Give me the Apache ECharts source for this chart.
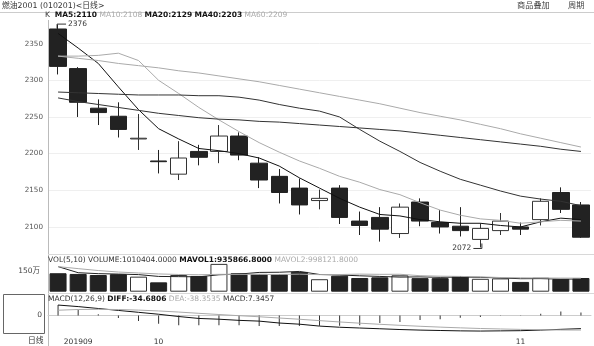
<!DOCTYPE html>
<html><head><meta charset="utf-8">
<script src="https://cdn.jsdelivr.net/npm/echarts@6/dist/echarts.min.js"></script>
<style>html,body{margin:0;padding:0;background:#fff}#c{width:594px;height:346px}</style>
</head><body><div id="c"></div>
<script>
const dates = ['2019-09-24','2019-09-25','2019-09-26','2019-09-27','2019-09-30','2019-10-08','2019-10-09','2019-10-10','2019-10-11','2019-10-14','2019-10-15','2019-10-16','2019-10-17','2019-10-18','2019-10-21','2019-10-22','2019-10-23','2019-10-24','2019-10-25','2019-10-28','2019-10-29','2019-10-30','2019-10-31','2019-11-01','2019-11-04','2019-11-05','2019-11-06'];
const openP  = [2370,2316,2262,2251,2220,2190,2172,2203,2203,2224,2187,2169,2153,2136,2153,2108,2113,2091,2134,2106,2101,2083,2095,2100,2110,2147,2130];
const closeP = [2319,2270,2256,2233,2221,2189,2194,2195,2224,2198,2164,2147,2130,2139,2113,2102,2097,2127,2108,2100,2095,2098,2108,2097,2135,2124,2086];
const lowP   = [2308,2250,2239,2222,2205,2173,2164,2184,2187,2191,2153,2132,2117,2124,2104,2089,2080,2085,2101,2091,2087,2072,2089,2089,2102,2119,2085];
const highP  = [2376,2318,2274,2270,2254,2205,2217,2212,2239,2229,2195,2179,2166,2151,2157,2121,2127,2132,2139,2123,2127,2105,2119,2106,2139,2154,2134];
const ma5  = [2364,2344,2323,2291,2260,2234,2220,2207,2204,2200,2194,2183,2167,2153,2139,2127,2117,2115,2110,2107,2105,2105,2102,2100,2107,2112,2110];
const ma10 = [2333,2333,2334,2337,2327,2300,2282,2263,2246,2230,2215,2202,2190,2180,2169,2161,2151,2144,2133,2123,2116,2111,2109,2105,2107,2109,2108];
const ma20 = [2284,2283,2282,2281,2280,2280,2280,2279,2279,2277,2273,2267,2262,2258,2250,2233,2217,2203,2188,2176,2165,2157,2149,2142,2138,2135,2129];
const ma40 = [2276,2271,2267,2263,2259,2255,2252,2249,2247,2246,2244,2243,2241,2239,2237,2235,2233,2231,2228,2225,2222,2219,2216,2213,2210,2206,2203];
const ma60 = [2333,2330,2327,2323,2320,2317,2313,2310,2306,2302,2298,2293,2288,2283,2278,2273,2268,2262,2256,2251,2246,2240,2234,2227,2221,2215,2209];
const volume = [1360000,1310000,1230000,1290000,1110000,690000,1230000,1160000,2050000,1360000,1310000,1290000,1460000,920000,1180000,1010000,1060000,1210000,1000000,1000000,1140000,950000,980000,720000,1030000,940000,1010404];
const mavol1 = [1850000,1400000,1330000,1300000,1260000,1126000,1110000,1096000,1248000,1298000,1422000,1434000,1494000,1268000,1232000,1172000,1126000,1076000,1092000,1056000,1082000,1060000,1014000,958000,964000,924000,935866.8];
const mavol2 = [1850000,1700000,1560000,1450000,1380000,1310000,1270000,1250000,1280000,1279000,1274000,1272000,1295000,1258000,1265000,1297000,1280000,1285000,1180000,1144000,1127000,1093000,1045000,1025000,1010000,1003000,998121.8];
const diff = [27,23,18,13,8,3,-3,-8,-10,-13,-15,-20,-23,-28,-31,-33,-35,-37,-38.5,-39.5,-40.5,-41,-40.5,-40,-38.5,-36.5,-34.6806];
const dea  = [13.5,15.4,15.9,15.3,13.8,11.6,8.7,5.4,2.3,-0.8,-3.6,-6.9,-10.1,-13.7,-17.2,-20.4,-23.3,-26,-28.5,-30.7,-32.6,-34.3,-35.5,-36.6,-37.5,-38.2,-38.3535];
const macd = [27,15,3,-7,-15,-22,-26,-26,-26,-26,-28,-28,-28,-27,-27,-26,-20,-17,-12,-10,-6,-4,-1,0.5,4,10,7.3457];
const xTickIndex = [1,5,23];
const xTickText = ['201909','10','11'];
const priceTicks = [2100,2150,2200,2250,2300,2350];

const FONT = '"DejaVu Sans", "Noto Sans CJK SC", sans-serif';
const chart = echarts.init(document.getElementById('c'), null, {renderer:'canvas'});
const n = dates.length;
const last = a => a[a.length-1];
const candle = dates.map((d,i)=>[openP[i],closeP[i],lowP[i],highP[i]]);
const volData = volume.map((v,i)=>({value:v, itemStyle: closeP[i] >= openP[i] ?
  {color:'#fff', borderColor:'#333', borderWidth:1} : {color:'#222', borderColor:'#222', borderWidth:1}}));

function line(name, data, color, xi, width){
  return {name, type:'line', data, xAxisIndex:xi, yAxisIndex:xi, symbol:'none', smooth:false,
    lineStyle:{color, width: width||1}, itemStyle:{color}, z:3};
}
const hiddenX = gi => ({type:'category', data:dates, gridIndex:gi, boundaryGap:true,
  axisLine:{show:false}, axisTick:{show:false}, axisLabel:{show:false}, splitLine:{show:false}});

chart.setOption({
  animation:false,
  textStyle:{fontFamily:FONT},
  grid:[
    {left:48, right:3, top:7, height:256.6},
    {left:48, right:3, top:251, height:40.7},
    {left:48, right:3, top:302, height:33.15}
  ],
  xAxis:[hiddenX(0), hiddenX(1),
    {type:'category', data:dates, gridIndex:2, boundaryGap:true,
     axisLine:{show:true, lineStyle:{color:'#ccc'}}, axisTick:{show:false},
     axisLabel:{interval:0, fontSize:7.5, color:'#333', margin:4, fontFamily:FONT,
       formatter:(v,i)=>{const k=xTickIndex.indexOf(i); return k>=0?xTickText[k]:'';}},
     splitLine:{show:false}}],
  yAxis:[
    {type:'value', gridIndex:0, min:2050, max:2400, interval:50,
     axisLine:{show:false}, axisTick:{show:false},
     axisLabel:{fontSize:7.2, color:'#555', margin:5, fontFamily:FONT,
       formatter:v=>priceTicks.indexOf(v)>=0?String(v):''},
     splitLine:{show:true, showMinLine:false, showMaxLine:false, lineStyle:{color:'#efefef'}}},
    {type:'value', gridIndex:1, min:0, max:3000000, interval:1500000,
     axisLine:{show:false}, axisTick:{show:false},
     axisLabel:{fontSize:7.5, color:'#444', margin:8, fontFamily:FONT,
       formatter:v=>v===1500000?'150万':''},
     splitLine:{show:false}},
    {type:'value', gridIndex:2, min:-50, max:35, interval:50,
     axisLine:{show:false}, axisTick:{show:false},
     axisLabel:{fontSize:7.5, color:'#444', margin:6, fontFamily:FONT,
       formatter:v=>v===0?'0':''},
     splitLine:{show:true, showMinLine:false, showMaxLine:false, lineStyle:{color:'#ccc'}}}
  ],
  series:[
    {type:'candlestick', data:candle, xAxisIndex:0, yAxisIndex:0, barWidth:17,
     itemStyle:{color:'#fff', color0:'#222', borderColor:'#333', borderColor0:'#222', borderWidth:1}, z:2},
    line('MA5', ma5, '#111', 0),
    line('MA10', ma10, '#aaa', 0),
    line('MA20', ma20, '#333', 0),
    line('MA40', ma40, '#333', 0),
    line('MA60', ma60, '#aaa', 0),
    {type:'bar', data:volData, xAxisIndex:1, yAxisIndex:1, barWidth:17, z:2},
    line('MAVOL1', mavol1, '#222', 1),
    line('MAVOL2', mavol2, '#aaa', 1),
    {type:'bar', data:macd, xAxisIndex:2, yAxisIndex:2, barWidth:1, itemStyle:{color:'#333'}, z:2},
    line('DIFF', diff, '#111', 2),
    line('DEA', dea, '#aaa', 2)
  ]
});

// annotations computed through the chart's own scales
let hiIdx = 0, loIdx = 0;
highP.forEach((v,i)=>{ if(v>highP[hiIdx]) hiIdx=i; });
lowP.forEach((v,i)=>{ if(v<lowP[loIdx]) loIdx=i; });
const hp = chart.convertToPixel({gridIndex:0}, [hiIdx, highP[hiIdx]]);
const lp = chart.convertToPixel({gridIndex:0}, [loIdx, lowP[loIdx]]);

const T = (text, x, y, opt) => Object.assign({type:'text', x, y, silent:true,
  style:Object.assign({text, fill:'#333', fontSize:7.5, fontFamily:FONT, verticalAlign:'middle', align:'left'}, opt||{})});
const L = (x1,y1,x2,y2,c) => ({type:'line', silent:true, shape:{x1,y1,x2,y2}, style:{stroke:c||'#ccc', lineWidth:1}});
const richSt = {b:{fontWeight:'bold', fill:'#111', fontSize:7.5, fontFamily:FONT}, g:{fill:'#aaa', fontSize:7.5, fontFamily:FONT}, n:{fill:'#333', fontSize:7.5, fontFamily:FONT}};
const f0 = v => String(Math.round(v));
const f4 = v => v.toFixed(4);

chart.setOption({graphic:[
  L(0,12.5,594,12.5,'#ccc'),
  L(48.5,20,48.5,346,'#bbb'),
  L(48,254.5,594,254.5,'#d8d8d8'),
  L(48,293.5,594,293.5,'#d8d8d8'),
  {type:'rect', silent:true, shape:{x:3.5,y:294.5,width:41,height:39}, style:{fill:'none', stroke:'#666', lineWidth:1}},
  T('燃油2001 (010201)<日线>', 2, 6, {fontSize:7.8, fill:'#333'}),
  T('商品叠加', 517, 6, {fontSize:8.2, fill:'#444'}),
  T('周期', 568, 6, {fontSize:8.2, fill:'#444'}),
  T('{n|K}  {b|MA5:'+f0(last(ma5))+'} {g|MA10:'+f0(last(ma10))+'} {b|MA20:'+f0(last(ma20))+'} {b|MA40:'+f0(last(ma40))+'} {g|MA60:'+f0(last(ma60))+'}', 45, 15.5, {rich:richSt}),
  T('{n|VOL(5,10) VOLUME:'+f4(last(volume))+'} {b|MAVOL1:'+f4(last(mavol1))+'} {g|MAVOL2:'+f4(last(mavol2))+'}', 48, 260, {rich:richSt}),
  T('{n|MACD(12,26,9)} {b|DIFF:'+f4(last(diff))+'} {g|DEA:'+f4(last(dea))+'} {n|MACD:'+f4(last(macd))+'}', 48, 299.5, {rich:richSt}),
  T('日线', 28, 340.5, {fontSize:7.8, fill:'#333'}),
  {type:'polyline', silent:true, shape:{points:[[hp[0]-1,hp[1]+4],[hp[0]-1,hp[1]-0.5],[hp[0]+8,hp[1]-0.5]]}, style:{stroke:'#333', lineWidth:1, fill:'none'}},
  T(String(highP[hiIdx]), hp[0]+10, hp[1]-0.5, {fontSize:7.5}),
  {type:'polyline', silent:true, shape:{points:[[lp[0]+1.5,lp[1]-4],[lp[0]+1.5,lp[1]+1],[lp[0]-7,lp[1]+1]]}, style:{stroke:'#333', lineWidth:1, fill:'none'}},
  T(String(lowP[loIdx]), lp[0]-9, lp[1]+1, {fontSize:7.5, align:'right'})
]});
</script>
</body></html>
